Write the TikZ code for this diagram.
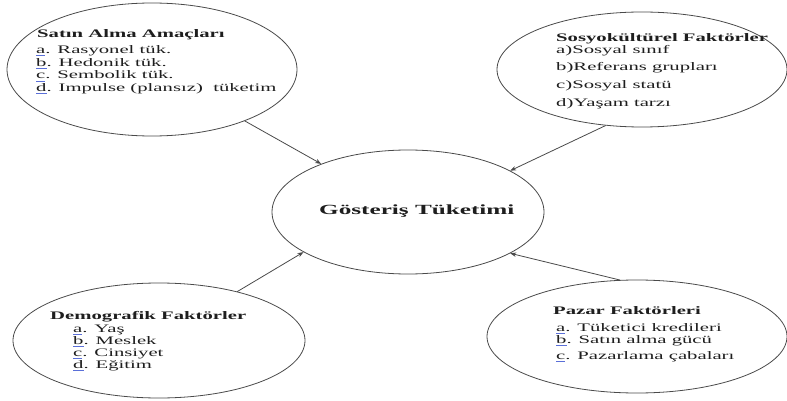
\documentclass[tikz,border=0pt]{standalone}
\usepackage{fontspec}
\setmainfont{Liberation Serif}[FakeStretch=1.8]
\usetikzlibrary{shapes.geometric,arrows.meta}
\definecolor{linegray}{HTML}{4A4A4A}
\definecolor{txtgray}{HTML}{1E1E1E}
\definecolor{squig}{HTML}{5A6FD8}
\newcommand\sqmark[1]{\setbox0=\hbox{#1}\rlap{\textcolor{squig}{\rule[-2.4pt]{\wd0}{0.6pt}}}\box0}
\tikzset{
  oval/.style={ellipse, draw=linegray, line width=0.8pt, inner sep=0pt},
  txt/.style={anchor=base west, inner sep=0pt, text=txtgray, font=\fontsize{11.5}{13}\selectfont},
  ttl/.style={txt, font=\fontsize{11.5}{13}\selectfont\bfseries},
  conn/.style={draw=linegray, line width=0.8pt, -{Stealth[length=6pt,width=4.5pt]}}
}
\begin{document}
\begin{tikzpicture}[x=1pt,y=-1pt]
\useasboundingbox[fill=white] (0,0) rectangle (787,401);
% ellipses
\node[oval, minimum width=290pt, minimum height=133pt] (tl) at (152,69.5) {};
\node[oval, minimum width=290pt, minimum height=115pt] (tr) at (642,69.5) {};
\node[oval, minimum width=272pt, minimum height=124pt] (c) at (408,212) {};
\node[oval, minimum width=292pt, minimum height=115pt] (bl) at (159,340.5) {};
\node[oval, minimum width=300pt, minimum height=113pt] (br) at (637,336.5) {};
% center text
\node[anchor=base west, inner sep=0pt, text=txtgray, font=\fontsize{14}{16}\selectfont\bfseries] (ct) at (319,214.5) {Gösteriş Tüketimi};
% top-left
\node[ttl] (tl0) at (37,37.5) {Satın Alma Amaçları};
\node[txt] (tl1) at (36,53.5) {\sqmark{a}. Rasyonel tük.};
\node[txt] (tl2) at (36,66.5) {\sqmark{b}. Hedonik tük.};
\node[txt] (tl3) at (36,79) {\sqmark{c}. Sembolik tük.};
\node[txt] (tl4) at (36,91.5) {\sqmark{d}. Impulse (plansız)\ \ tüketim};
% top-right
\node[ttl] (tr0) at (556,42) {Sosyokültürel Faktörler};
\node[txt] (tr1) at (556,53.5) {a)Sosyal sınıf};
\node[txt] (tr2) at (556,71) {b)Referans grupları};
\node[txt] (tr3) at (556,89) {c)Sosyal statü};
\node[txt] (tr4) at (556,107) {d)Yaşam tarzı};
% bottom-left
\node[ttl] (bl0) at (50,319) {Demografik Faktörler};
\node[txt] (bl1) at (73,332) {\sqmark{a}. Yaş};
\node[txt] (bl2) at (73,344) {\sqmark{b}. Meslek};
\node[txt] (bl3) at (73,356) {\sqmark{c}. Cinsiyet};
\node[txt] (bl4) at (73,368) {\sqmark{d}. Eğitim};
% bottom-right
\node[ttl] (br0) at (553,314) {Pazar Faktörleri};
\node[txt] (br1) at (556,331) {\sqmark{a}. Tüketici kredileri};
\node[txt] (br2) at (556,343.5) {\sqmark{b}. Satın alma gücü};
\node[txt] (br3) at (556,359) {\sqmark{c}. Pazarlama çabaları};
% connectors
\draw[conn] (tl.-29.7) -- (c.151.3);
\draw[conn] (tr.237.2) -- (c.22.2);
\draw[conn] (bl.32.9) -- (c.201.2);
\draw[conn] (br.107.3) -- (c.-22.3);
\end{tikzpicture}
\end{document}
